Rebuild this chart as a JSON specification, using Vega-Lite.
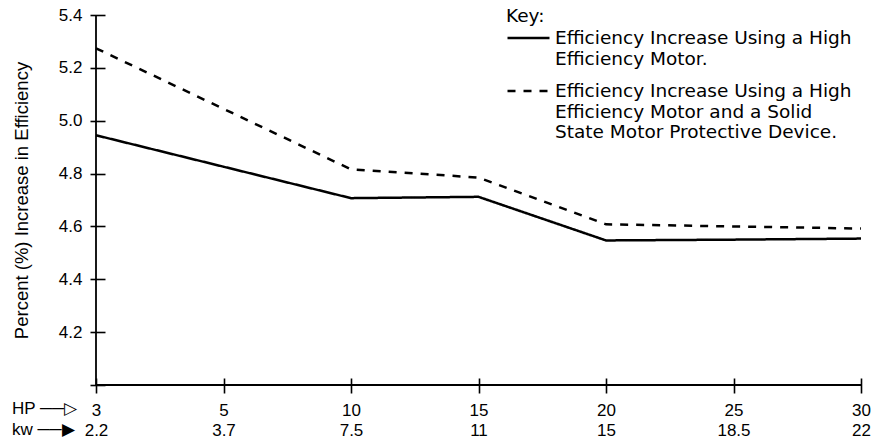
{
  "$schema": "https://vega.github.io/schema/vega-lite/v6.json",
  "width": 765,
  "height": 370,
  "autosize": {"type": "none"},
  "padding": {"left": 96, "top": 15, "right": 24, "bottom": 59},
  "background": "white",
  "config": {
    "view": {"stroke": null},
    "font": "Liberation Sans",
    "axis": {
      "domain": false,
      "grid": false,
      "tickColor": "black",
      "tickWidth": 1.6,
      "labelColor": "black",
      "labelFont": "Liberation Sans",
      "labelFontSize": 17,
      "titleColor": "black",
      "titleFont": "Liberation Sans",
      "titleFontWeight": "normal"
    }
  },
  "datasets": {
    "eff": [
      {"hp": "3", "kw": "2.2", "series": "Motor", "value": 4.945},
      {"hp": "5", "kw": "3.7", "series": "Motor", "value": 4.826},
      {"hp": "10", "kw": "7.5", "series": "Motor", "value": 4.707},
      {"hp": "15", "kw": "11", "series": "Motor", "value": 4.712},
      {"hp": "20", "kw": "15", "series": "Motor", "value": 4.547},
      {"hp": "25", "kw": "18.5", "series": "Motor", "value": 4.55},
      {"hp": "30", "kw": "22", "series": "Motor", "value": 4.554},
      {"hp": "3", "kw": "2.2", "series": "MotorDevice", "value": 5.274},
      {"hp": "5", "kw": "3.7", "series": "MotorDevice", "value": 5.045},
      {"hp": "10", "kw": "7.5", "series": "MotorDevice", "value": 4.816},
      {"hp": "15", "kw": "11", "series": "MotorDevice", "value": 4.785},
      {"hp": "20", "kw": "15", "series": "MotorDevice", "value": 4.608},
      {"hp": "25", "kw": "18.5", "series": "MotorDevice", "value": 4.6},
      {"hp": "30", "kw": "22", "series": "MotorDevice", "value": 4.592}
    ]
  },
  "layer": [
    {
      "data": {"name": "eff"},
      "mark": {"type": "line", "color": "black", "strokeWidth": 2.5, "strokeCap": "butt"},
      "encoding": {
        "x": {
          "field": "hp",
          "type": "nominal",
          "scale": {"type": "point", "padding": 0, "domain": ["3", "5", "10", "15", "20", "25", "30"]},
          "axis": {
            "title": null,
            "orient": "bottom",
            "offset": -7,
            "tickSize": 15,
            "labelPadding": 9,
            "labelAngle": 0,
            "labelBaseline": "top",
            "labelLineHeight": 20,
            "labelOverlap": false,
            "labelFlush": false,
            "labelExpr": "datum.label == '3' ? ['3','2.2'] : datum.label == '5' ? ['5','3.7'] : datum.label == '10' ? ['10','7.5'] : datum.label == '15' ? ['15','11'] : datum.label == '20' ? ['20','15'] : datum.label == '25' ? ['25','18.5'] : ['30','22']"
          }
        },
        "y": {
          "field": "value",
          "type": "quantitative",
          "scale": {"domain": [4.0, 5.4], "nice": false, "zero": false},
          "axis": {
            "title": "Percent (%) Increase in Efficiency",
            "titleFontSize": 18.5,
            "titlePadding": 27,
            "orient": "left",
            "offset": -9,
            "tickSize": 15,
            "labelPadding": 8,
            "values": [4.0, 4.2, 4.4, 4.6, 4.8, 5.0, 5.2, 5.4],
            "labelExpr": "datum.value < 4.05 ? '' : format(datum.value, '.1f')"
          }
        },
        "strokeDash": {
          "field": "series",
          "type": "nominal",
          "scale": {"domain": ["Motor", "MotorDevice"], "range": [[1, 0], [8, 8]]},
          "legend": {
            "orient": "none",
            "legendX": 410,
            "legendY": -8,
            "title": "Key:",
            "titleFont": "DejaVu Sans",
            "titleFontSize": 18.5,
            "titleFontWeight": "normal",
            "titleColor": "black",
            "titlePadding": -10,
            "padding": 0,
            "symbolType": "stroke",
            "symbolSize": 1764,
            "symbolStrokeWidth": 2.5,
            "symbolStrokeColor": "black",
            "labelFont": "DejaVu Sans",
            "labelFontSize": 18.5,
            "labelColor": "black",
            "labelLineHeight": 19.5,
            "labelOffset": 4,
            "labelLimit": 0,
            "rowPadding": 0,
            "labelExpr": "datum.label == 'Motor' ? ['Efficiency Increase Using a High', 'Efficiency Motor.'] : ['Efficiency Increase Using a High', 'Efficiency Motor and a Solid', 'State Motor Protective Device.']"
          }
        }
      }
    },
    {
      "data": {"values": [{}]},
      "mark": {"type": "rule", "color": "black", "strokeWidth": 1.8},
      "encoding": {"x": {"datum": "3"}}
    },
    {
      "data": {"values": [{}]},
      "mark": {"type": "rule", "color": "black", "strokeWidth": 1.8},
      "encoding": {"y": {"datum": 4.0}}
    },
    {
      "data": {"values": [{"hp": "3", "note": "HP ──▷|kw ──▶"}]},
      "mark": {"type": "text", "align": "left", "baseline": "alphabetic", "dx": -84, "dy": 29, "fontSize": 17, "lineBreak": "|", "lineHeight": 21, "color": "black", "font": "Liberation Sans"},
      "encoding": {
        "x": {"field": "hp", "type": "nominal"},
        "y": {"datum": 4.0},
        "text": {"field": "note"}
      }
    }
  ]
}
